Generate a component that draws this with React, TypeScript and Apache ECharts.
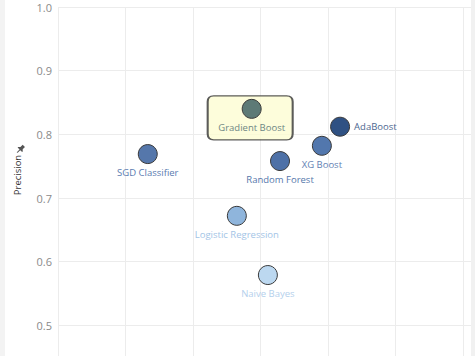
import React, { useEffect, useRef } from "react";
import * as echarts from "echarts";

// ---- data ----
const models = [
  "SGD Classifier",
  "Gradient Boost",
  "Random Forest",
  "XG Boost",
  "AdaBoost",
  "Logistic Regression",
  "Naive Bayes",
];
const recall = [0.133, 0.287, 0.329, 0.391, 0.418, 0.265, 0.311];
const precision = [0.769, 0.84, 0.758, 0.782, 0.812, 0.672, 0.579];
const highlighted = "Gradient Boost";
const yTickValues = [0.5, 0.6, 0.7, 0.8, 0.9, 1.0];

// ---- styles ----
const pointColors = ["#5577ab", "#5d7a76", "#4e71a7", "#5277ad", "#2f5183", "#8fb5dc", "#bcd8f0"];
const labelColors = ["#5a7bb0", "#6e8784", "#5577ab", "#6482b3", "#4d6790", "#a3c4e6", "#b4d0ec"];

const FONT = "'Open Sans', 'Noto Sans', sans-serif";

echarts.graphic.registerShape(
  "pin",
  echarts.graphic.extendPath(
    "M3,0 L7,0 L7,4 L9,6 L9,7 L5.6,7 L5.6,11 L5,12.5 L4.4,11 L4.4,7 L1,7 L1,6 L3,4 Z",
    {}
  ) as any
);

export default function App() {
  const ref = useRef<HTMLDivElement>(null);

  useEffect(() => {
    document.body.style.margin = "0";
    if (!ref.current) return;
    const chart = echarts.init(ref.current, null, { renderer: "svg" });

    const hi = models.indexOf(highlighted);

    const mainData = models.map((m, i) => ({
      name: m,
      value: [recall[i], precision[i]],
      itemStyle: { color: pointColors[i] },
      label: {
        color: labelColors[i],
        position: m === "AdaBoost" ? "right" : "bottom",
        distance: m === "AdaBoost" ? 4 : 3.5,
      },
    }));

    chart.setOption({
      animation: false,
      backgroundColor: "#ffffff",
      grid: { left: 58, right: 4, top: 7, bottom: 0, containLabel: false },
      xAxis: {
        type: "value",
        min: 0,
        max: 0.612,
        interval: 0.1,
        axisLine: { show: false },
        axisTick: { show: false },
        axisLabel: { show: false },
        splitLine: { show: true, lineStyle: { color: "#ececec", width: 1 } },
      },
      yAxis: {
        type: "value",
        min: 0.4,
        max: 1.0,
        interval: 0.1,
        axisLine: { show: false },
        axisTick: { show: false },
        axisLabel: {
          color: "#8a8a8a",
          fontSize: 11,
          fontFamily: FONT,
          margin: 6,
          formatter: (v: number) =>
            yTickValues.some((t) => Math.abs(t - v) < 1e-6) ? v.toFixed(1) : "",
        },
        splitLine: { show: true, lineStyle: { color: "#ececec", width: 1 } },
      },
      graphic: [
        { type: "rect", shape: { x: 0, y: 0, width: 5, height: 400 }, style: { fill: "#f3f3f3" }, z: 10 },
        { type: "rect", shape: { x: 471, y: 0, width: 4, height: 400 }, style: { fill: "#f1f1f1" }, z: 10 },
        {
          type: "text",
          x: 17,
          y: 175,
          rotation: Math.PI / 2,
          style: {
            text: "Precision",
            fill: "#333333",
            fontSize: 9.5,
            fontFamily: FONT,
            align: "center",
            verticalAlign: "middle",
          },
          z: 11,
        },
        {
          type: "pin",
          x: 21,
          y: 143,
          rotation: -Math.PI / 4,
          scaleX: 0.8,
          scaleY: 0.8,
          style: { fill: "#555555" },
          z: 11,
        },
      ],
      series: [
        {
          type: "scatter",
          name: "highlight",
          silent: true,
          z: 1,
          symbol: "path://M6,0H79Q85,0 85,6V38Q85,44 79,44H6Q0,44 0,38V6Q0,0 6,0Z",
          symbolSize: [85, 44],
          symbolOffset: [-1.5, 9],
          symbolKeepAspect: false,
          itemStyle: { color: "#fdfcd2", borderColor: "#333333", borderWidth: 1.5 },
          data: [[recall[hi], precision[hi]]],
        },
        {
          type: "scatter",
          name: "models",
          z: 3,
          symbol: "circle",
          symbolSize: 19,
          itemStyle: { borderColor: "#3a3a3a", borderWidth: 1, opacity: 1 },
          label: {
            show: true,
            formatter: "{b}",
            fontSize: 9.5,
            fontFamily: FONT,
          },
          data: mainData,
        },
      ],
    });

    return () => chart.dispose();
  }, []);

  return (
    <div style={{ width: 475, height: 356, overflow: "hidden", position: "relative" }}>
      <div ref={ref} style={{ width: 475, height: 389 }} />
    </div>
  );
}
